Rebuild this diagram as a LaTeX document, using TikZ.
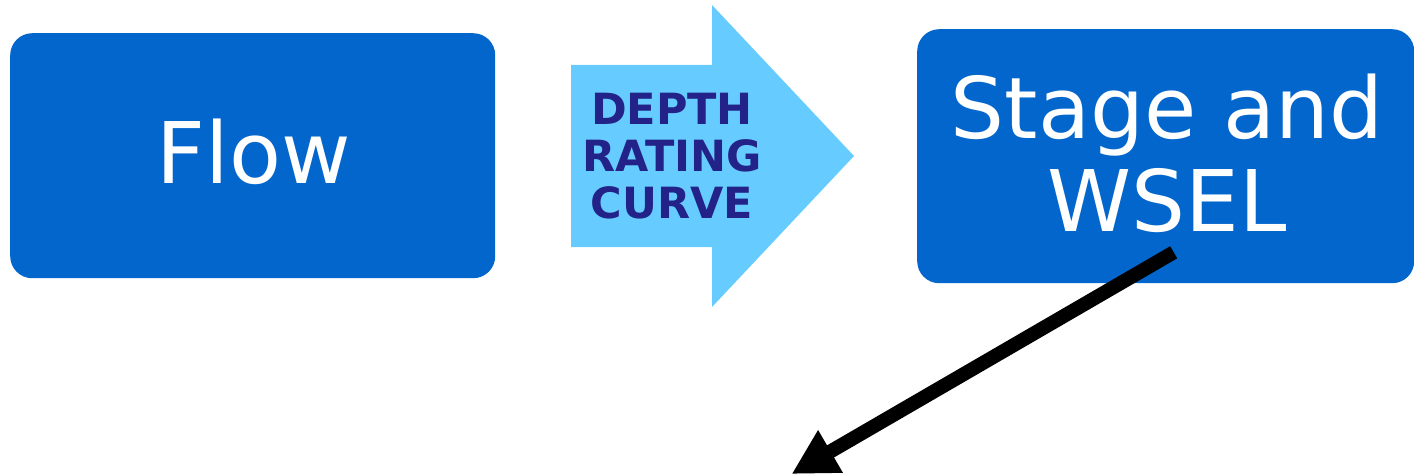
\documentclass[tikz,border=0pt]{standalone}
\usepackage{fontspec}
\setmainfont{DejaVu Sans}
\usetikzlibrary{arrows.meta}
\definecolor{boxblue}{RGB}{3,102,204}
\definecolor{lightarrow}{RGB}{102,204,255}
\definecolor{darktext}{RGB}{34,34,136}
\begin{document}
\begin{tikzpicture}[x=1pt,y=-1pt,
  bluebox/.style={fill=boxblue, draw=none, rounded corners=22pt, anchor=north west,
    inner sep=0pt},
  boxtext/.style={text=white, align=center, inner sep=0pt,
    font=\fontsize{85}{93}\selectfont},
  arrowtext/.style={text=darktext, align=center, inner sep=0pt,
    font=\bfseries\fontsize{43}{47}\selectfont},
  pointer/.style={line width=14pt, -{Triangle[length=45pt,width=46pt]}}]
\useasboundingbox (0,0) rectangle (1414,476);
% blue boxes
\node[bluebox, minimum width=485pt, minimum height=245pt] (flow) at (10,33) {};
\node[bluebox, minimum width=497pt, minimum height=254pt] (stage) at (917,29) {};
\node[boxtext, anchor=base] (flowlabel) at (254,183) {Flow};
\node[boxtext] (stagelabel) at (1167,153.5) {Stage and\\WSEL};
% light blue block arrow
\fill[lightarrow] (571,65) -- (712,65) -- (712,5) -- (854,156) -- (712,307) -- (712,247) -- (571,247) -- cycle;
\node[arrowtext] (curve) at (672,156) {DEPTH\\RATING\\CURVE};
% black pointer
\coordinate (pstart) at (1173.7,252.3);
\coordinate (pend) at (791.6,474);
\draw[pointer] (pstart) -- (pend);
\end{tikzpicture}
\end{document}
